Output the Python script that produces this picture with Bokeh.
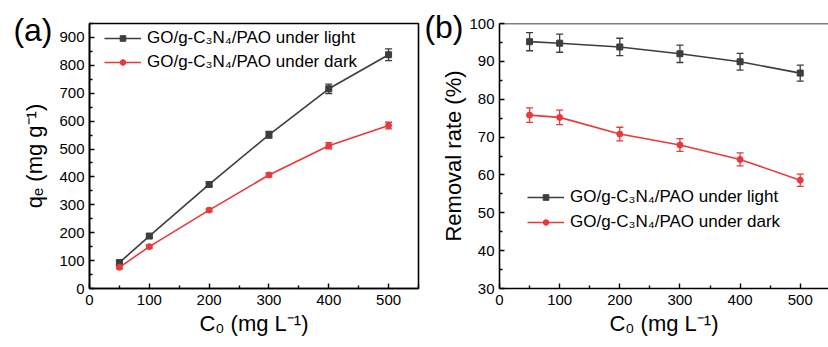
from bokeh.plotting import figure
from bokeh.layouts import row
from bokeh.models import (ColumnDataSource, Whisker, TeeHead, Range1d, FixedTicker,
                          LinearAxis, Legend, LegendItem, Span)
from bokeh.embed import file_html
from bokeh.resources import INLINE

# Initial U(VI) concentration, mg/L
conc = [50, 100, 200, 300, 400, 500]

# (a) adsorption capacity q_e, mg/g
qe_light = [93, 188, 373, 551, 716, 838]
qe_light_err = [7, 7, 7, 12, 17, 21]
qe_dark = [76, 150, 281, 407, 512, 584]
qe_dark_err = [6, 6, 6, 7, 11, 12]

# (b) removal rate, %
rr_light = [95.2, 94.8, 93.8, 92.0, 89.9, 86.9]
rr_light_err = [2.4, 2.4, 2.3, 2.3, 2.2, 2.1]
rr_dark = [75.8, 75.2, 70.8, 67.9, 64.1, 58.6]
rr_dark_err = [1.9, 1.9, 1.8, 1.7, 1.7, 1.6]

series_names = ["GO/g-C\u2083N\u2084/PAO under light", "GO/g-C\u2083N\u2084/PAO under dark"]
x_title = "C\u2080 (mg L\u207b\u00b9)"
ya_title = "q\u2091 (mg g\u207b\u00b9)"
yb_title = "Removal rate (%)"

x_ticks = [0, 100, 200, 300, 400, 500]
x_minor = [50, 150, 250, 350, 450, 550]
ya_ticks = list(range(0, 1000, 100))
ya_minor = list(range(50, 1000, 100))
yb_ticks = list(range(30, 110, 10))
yb_minor = list(range(35, 105, 10))

FONT = "Liberation Sans"
GRAY = "#3d3d3d"
RED = "#e8393b"


def style_axes(p, xt, xm, yt, ym, y_standoff):
    for ax in (p.xaxis[0], p.yaxis[0]):
        ax.axis_line_width = 1.6
        ax.axis_line_color = "black"
        ax.major_tick_in = 5
        ax.major_tick_out = 0
        ax.minor_tick_in = 3
        ax.minor_tick_out = 0
        ax.major_tick_line_width = 1.4
        ax.minor_tick_line_width = 1.4
        ax.major_label_text_font = FONT
        ax.major_label_text_font_size = "15px"
        ax.major_label_text_color = "black"
        ax.axis_label_text_font = FONT
        ax.axis_label_text_font_size = "22px"
        ax.axis_label_text_font_style = "normal"
        ax.axis_label_text_color = "black"
    p.xaxis[0].ticker = FixedTicker(ticks=xt, minor_ticks=xm)
    p.yaxis[0].ticker = FixedTicker(ticks=yt, minor_ticks=ym)
    p.xaxis[0].major_label_standoff = 6
    p.yaxis[0].major_label_standoff = 5
    p.xaxis[0].axis_label_standoff = 3
    p.yaxis[0].axis_label_standoff = y_standoff
    p.xgrid.visible = False
    p.ygrid.visible = False


def add_series(p, x, y, err, color, marker):
    src = ColumnDataSource(dict(x=x, y=y,
                                lo=[a - e for a, e in zip(y, err)],
                                hi=[a + e for a, e in zip(y, err)]))
    ln = p.line("x", "y", source=src, line_color=color, line_width=1.6)
    w = Whisker(source=src, base="x", lower="lo", upper="hi", dimension="height",
                line_color=color, line_width=1.3,
                upper_head=TeeHead(size=7, line_color=color, line_width=1.3),
                lower_head=TeeHead(size=7, line_color=color, line_width=1.3))
    p.add_layout(w)
    mk = p.scatter("x", "y", source=src, marker=marker, size=6,
                   fill_color=color, line_color=color)
    return [ln, mk]


def add_legend(p, items, loc, gap):
    # a short glyph box keeps the legend markers small
    leg = Legend(items=[LegendItem(label=n, renderers=r) for n, r in items],
                 location=loc, orientation="vertical",
                 glyph_width=37, glyph_height=14, label_height=14,
                 label_standoff=6, spacing=gap, padding=0, margin=0,
                 border_line_color=None, background_fill_alpha=0,
                 label_text_font=FONT, label_text_font_size="17px",
                 label_text_color="black")
    p.add_layout(leg)


def panel_tag(p, text, at, standoff):
    # panel letter drawn as the single label of a bare outer left axis
    ax = LinearAxis(ticker=FixedTicker(ticks=[at], minor_ticks=[]),
                    major_label_overrides={at: text},
                    axis_line_color=None, major_tick_line_color=None,
                    minor_tick_line_color=None,
                    major_label_standoff=standoff,
                    major_label_text_font=FONT,
                    major_label_text_font_size="32px",
                    major_label_text_color="black")
    p.add_layout(ax, "left")


# ---------- (a) q_e vs C0 ----------
pa = figure(width=421, height=347, output_backend="svg", toolbar_location=None,
            x_range=Range1d(0, 550), y_range=Range1d(0, 950),
            min_border_left=89, min_border_right=3, min_border_top=20,
            min_border_bottom=59, title=None,
            x_axis_label=x_title, y_axis_label=ya_title)
pa.outline_line_color = "black"
pa.outline_line_width = 1.6
pa.outline_line_alpha = 1
style_axes(pa, x_ticks, x_minor, ya_ticks, ya_minor, 9)
ra1 = add_series(pa, conc, qe_light, qe_light_err, GRAY, "square")
ra2 = add_series(pa, conc, qe_dark, qe_dark_err, RED, "circle")
add_legend(pa, [(series_names[0], ra1), (series_names[1], ra2)], (15, 216), 4)
panel_tag(pa, "(a)", 927, -39)

# ---------- (b) removal rate vs C0 ----------
pb = figure(width=407, height=347, output_backend="svg", toolbar_location=None,
            x_range=Range1d(0, 547), y_range=Range1d(30, 100),
            min_border_left=78, min_border_right=0, min_border_top=23,
            min_border_bottom=57, title=None,
            x_axis_label=x_title, y_axis_label=yb_title)
pb.outline_line_color = None
style_axes(pb, x_ticks, x_minor, yb_ticks, yb_minor, 0)
pb.add_layout(Span(location=100, dimension="width", line_color="black", line_width=1.6))
rb1 = add_series(pb, conc, rr_light, rr_light_err, GRAY, "square")
rb2 = add_series(pb, conc, rr_dark, rr_dark_err, RED, "circle")
add_legend(pb, [(series_names[0], rb1), (series_names[1], rb2)], (28, 56), 5)
panel_tag(pb, "(b)", 99.1, -31)

layout = row(pa, pb, spacing=0)
open("out.html", "w").write(file_html(layout, INLINE))
